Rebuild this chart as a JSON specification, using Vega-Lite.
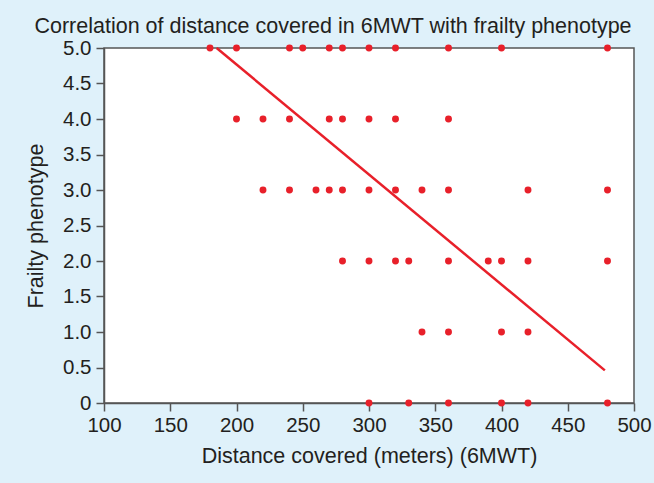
{
  "$schema": "https://vega.github.io/schema/vega-lite/v6.json",
  "width": 530,
  "height": 355,
  "autosize": "none",
  "padding": {"left": 104, "top": 48, "right": 20, "bottom": 80},
  "background": "#dff1fa",
  "title": {
    "text": "Correlation of distance covered in 6MWT with frailty phenotype",
    "font": "Liberation Sans",
    "fontSize": 21.5,
    "fontWeight": "normal",
    "color": "#231f20",
    "anchor": "middle",
    "dx": -36,
    "offset": 1
  },
  "config": {
    "view": {"stroke": "#555555", "strokeWidth": 1.5, "fill": "white"},
    "axis": {
      "labelFont": "Liberation Sans",
      "titleFont": "Liberation Sans",
      "labelFontSize": 20.5,
      "titleFontSize": 21.5,
      "titleFontWeight": "normal",
      "labelColor": "#231f20",
      "titleColor": "#231f20",
      "domainColor": "#555555",
      "domainWidth": 1.5,
      "tickColor": "#555555",
      "tickWidth": 1.5,
      "tickSize": 8,
      "labelOverlap": false,
      "labelFlush": false,
      "grid": false
    }
  },
  "datasets": {
    "points": [
      {"distance": 180, "frailty": 5}, {"distance": 200, "frailty": 5}, {"distance": 240, "frailty": 5},
      {"distance": 250, "frailty": 5}, {"distance": 270, "frailty": 5}, {"distance": 280, "frailty": 5},
      {"distance": 300, "frailty": 5}, {"distance": 320, "frailty": 5}, {"distance": 360, "frailty": 5},
      {"distance": 400, "frailty": 5}, {"distance": 480, "frailty": 5},
      {"distance": 200, "frailty": 4}, {"distance": 220, "frailty": 4}, {"distance": 240, "frailty": 4},
      {"distance": 270, "frailty": 4}, {"distance": 280, "frailty": 4}, {"distance": 300, "frailty": 4},
      {"distance": 320, "frailty": 4}, {"distance": 360, "frailty": 4},
      {"distance": 220, "frailty": 3}, {"distance": 240, "frailty": 3}, {"distance": 260, "frailty": 3},
      {"distance": 270, "frailty": 3}, {"distance": 280, "frailty": 3}, {"distance": 300, "frailty": 3},
      {"distance": 320, "frailty": 3}, {"distance": 340, "frailty": 3}, {"distance": 360, "frailty": 3},
      {"distance": 420, "frailty": 3}, {"distance": 480, "frailty": 3},
      {"distance": 280, "frailty": 2}, {"distance": 300, "frailty": 2}, {"distance": 320, "frailty": 2},
      {"distance": 330, "frailty": 2}, {"distance": 360, "frailty": 2}, {"distance": 390, "frailty": 2},
      {"distance": 400, "frailty": 2}, {"distance": 420, "frailty": 2}, {"distance": 480, "frailty": 2},
      {"distance": 340, "frailty": 1}, {"distance": 360, "frailty": 1}, {"distance": 400, "frailty": 1},
      {"distance": 420, "frailty": 1},
      {"distance": 300, "frailty": 0}, {"distance": 330, "frailty": 0}, {"distance": 360, "frailty": 0},
      {"distance": 400, "frailty": 0}, {"distance": 420, "frailty": 0}, {"distance": 480, "frailty": 0}
    ],
    "fit": [
      {"distance": 185, "frailty": 5.0},
      {"distance": 478, "frailty": 0.46}
    ]
  },
  "encoding": {
    "x": {
      "field": "distance",
      "type": "quantitative",
      "scale": {"domain": [100, 500], "nice": false, "zero": false},
      "axis": {"values": [100, 150, 200, 250, 300, 350, 400, 450, 500], "title": "Distance covered (meters) (6MWT)", "labelPadding": 4, "titlePadding": 10}
    },
    "y": {
      "field": "frailty",
      "type": "quantitative",
      "scale": {"domain": [0, 5], "nice": false},
      "axis": {"values": [0, 0.5, 1, 1.5, 2, 2.5, 3, 3.5, 4, 4.5, 5], "labelExpr": "datum.value == 0 ? '0' : format(datum.value, '.1f')", "title": "Frailty phenotype", "labelPadding": 5, "titlePadding": 15}
    }
  },
  "layer": [
    {
      "data": {"name": "fit"},
      "mark": {"type": "line", "color": "#e8202a", "strokeWidth": 2.5, "clip": false}
    },
    {
      "data": {"name": "points"},
      "mark": {"type": "point", "filled": true, "color": "#e8202a", "opacity": 1, "size": 48, "clip": false}
    }
  ]
}
